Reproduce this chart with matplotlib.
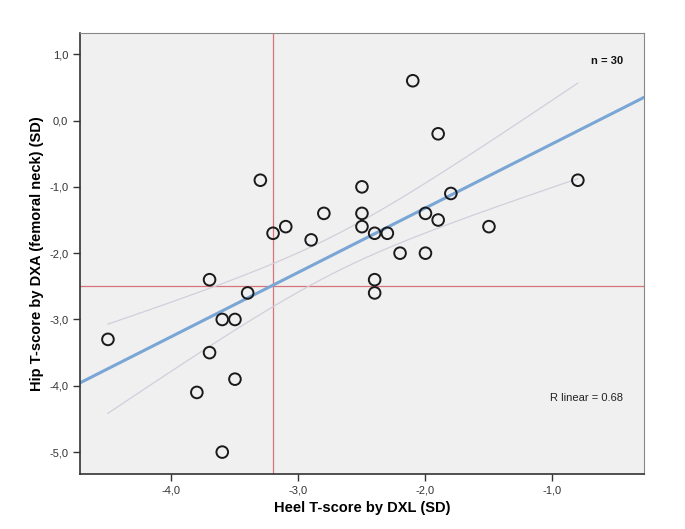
import numpy as np
import matplotlib
matplotlib.use("Agg")
import matplotlib.pyplot as plt

plt.rcParams['font.family'] = ['Liberation Sans', 'DejaVu Sans']

heel = [-3.3, -3.2, -3.1, -2.9, -2.8,
        -2.1, -1.9, -2.5, -2.5, -2.5, -2.4, -2.3, -1.8, -2.0, -1.9, -1.5, -0.8, -2.2, -2.0,
        -2.4, -2.4,
        -3.7, -3.4, -3.6, -3.5, -4.5, -3.7, -3.5, -3.8, -3.6]
hip = [-0.9, -1.7, -1.6, -1.8, -1.4,
       0.6, -0.2, -1.0, -1.4, -1.6, -1.7, -1.7, -1.1, -1.4, -1.5, -1.6, -0.9, -2.0, -2.0,
       -2.4, -2.6,
       -2.4, -2.6, -3.0, -3.0, -3.3, -3.5, -3.9, -4.1, -5.0]
ref_x = -3.2
ref_y = -2.5
xticks = [-4.0, -3.0, -2.0, -1.0]
yticks = [1.0, 0.0, -1.0, -2.0, -3.0, -4.0, -5.0]

x = np.array(heel)
y = np.array(hip)
n = len(x)
b, a = np.polyfit(x, y, 1)

fig = plt.figure(figsize=(6.85, 5.29), dpi=100)
ax = fig.add_axes([0.1168, 0.104, 0.940 - 0.1168, 0.9376 - 0.104])
ax.set_facecolor('#f0f0f0')
xlim = (-4.72, -0.28)
ylim = (-5.33, 1.32)
ax.set_xlim(*xlim)
ax.set_ylim(*ylim)

ax.axvline(ref_x, color='#d9737a', lw=0.9, zorder=1)
ax.axhline(ref_y, color='#d9737a', lw=0.9, zorder=1)

xs = np.linspace(xlim[0], xlim[1], 200)
ax.plot(xs, a + b * xs, color='#7aa6d6', lw=2.2, zorder=2)

# confidence band of the mean
resid = y - (a + b * x)
s = np.sqrt(np.sum(resid ** 2) / (n - 2))
sxx = np.sum((x - x.mean()) ** 2)
xc = np.linspace(x.min(), x.max(), 200)
se = s * np.sqrt(1.0 / n + (xc - x.mean()) ** 2 / sxx)
t = 1.75
yc = a + b * xc
ax.plot(xc, yc + t * se, color='#d2cedb', lw=0.9, zorder=2)
ax.plot(xc, yc - t * se, color='#d2cedb', lw=0.9, zorder=2)

ax.scatter(x, y, s=70, facecolors='none', edgecolors='#1a1a1a', linewidths=1.4, zorder=3)

ax.set_xticks(xticks)
ax.set_yticks(yticks)
ax.set_xticklabels([f"{v:.1f}".replace('.', ',') for v in xticks])
ax.set_yticklabels([f"{v:.1f}".replace('.', ',') for v in yticks])
ax.tick_params(axis='both', labelsize=8, labelcolor='#333333', color='#333333',
               length=5, width=1, direction='out')
for sp in ['top', 'right']:
    ax.spines[sp].set_color('#888888')
for sp in ['left', 'bottom']:
    ax.spines[sp].set_color('#333333')
    ax.spines[sp].set_linewidth(1.2)

ax.set_xlabel('Heel T-score by DXL (SD)', fontsize=10.5, fontweight='bold', labelpad=4)
ax.set_ylabel('Hip T-score by DXA (femoral neck) (SD)', fontsize=10.5, fontweight='bold', labelpad=4)

ax.text(0.963, 0.936, 'n = 30', transform=ax.transAxes, ha='right', va='center',
        fontsize=8, fontweight='bold', color='#111111')
ax.text(0.963, 0.172, 'R linear = 0.68', transform=ax.transAxes, ha='right', va='center',
        fontsize=8, color='#222222')

fig.savefig('out.png', dpi=100)
